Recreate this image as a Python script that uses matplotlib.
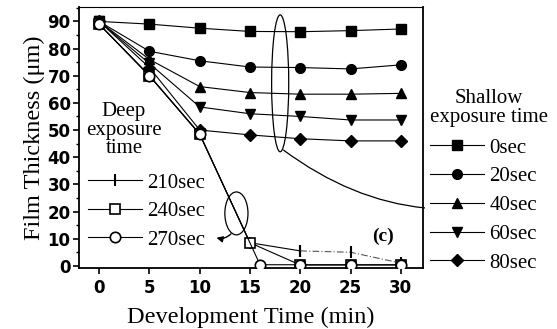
import matplotlib
matplotlib.use("Agg")
import matplotlib.pyplot as plt
from matplotlib.patches import Ellipse, PathPatch
from matplotlib.path import Path
from matplotlib.ticker import MultipleLocator

# ---- data ----
t_shallow = [0, 5, 10, 15, 20, 25, 30]
shallow_labels = ["0sec", "20sec", "40sec", "60sec", "80sec"]
s0 = [90, 89, 87.5, 86.3, 86.2, 86.6, 87.2]
s20 = [90, 79, 75.5, 73.2, 73.0, 72.5, 74.0]
s40 = [90, 76, 66, 63.8, 63.2, 63.2, 63.5]
s60 = [90, 74.5, 58.5, 56.0, 55.0, 53.7, 53.7]
s80 = [90, 73, 50, 48.2, 46.8, 46.0, 46.0]
shallow_series = [s0, s20, s40, s60, s80]
shallow_markers = ["s", "o", "^", "v", "D"]

deep_labels = ["210sec", "240sec", "270sec"]
t210 = [0, 5, 10, 15, 20, 25, 30]
d210 = [89, 70, 48.5, 8.5, 5.5, 5.0, 1.0]
t240 = [0, 5, 10, 15, 20, 25, 30]
d240 = [89, 70, 48.5, 8.5, 0.3, 0.3, 0.3]
t270 = [0, 5, 10, 16, 20, 25, 30]
d270 = [89, 70, 48.5, 0.4, 0.4, 0.4, 0.4]

xticks = [0, 5, 10, 15, 20, 25, 30]
yticks = [0, 10, 20, 30, 40, 50, 60, 70, 80, 90]

SERIF = "Liberation Serif"
W, H = 557, 329

fig = plt.figure(figsize=(5.57, 3.29), dpi=100)
ax = fig.add_axes([79 / W, 1 - 268 / H, (423 - 79) / W, (268 - 7) / H])
ax.set_xlim(-2, 32.2)
ax.set_ylim(-0.8, 95.3)

shallow_handles = []
for ys, mk, lab in zip(shallow_series, shallow_markers, shallow_labels):
    ms = 6 if mk == "D" else 7
    h, = ax.plot(t_shallow, ys, color="black", lw=0.8, marker=mk, ms=ms,
                 mfc="black", mec="black", label=lab, zorder=3)
    shallow_handles.append(h)

# 210 sec: solid up to 20 min, then dash-dot
h210, = ax.plot(t210[:5], d210[:5], color="black", lw=0.8, marker="|", ms=9,
                mew=1.5, label=deep_labels[0], zorder=2)
ax.plot(t210[4:], d210[4:], color="#555555", lw=0.8, ls=(0, (6, 2, 1, 2)),
        marker="|", ms=9, mew=1.5, mec="black", zorder=2)
h240, = ax.plot(t240, d240, color="black", lw=0.8, marker="s", ms=7,
                mfc="white", mec="black", mew=1.2, label=deep_labels[1], zorder=4)
h270, = ax.plot(t270, d270, color="black", lw=0.8, marker="o", ms=7.5,
                mfc="white", mec="black", mew=1.2, label=deep_labels[2], zorder=5)

# annotations: ellipses and connectors
ax.add_patch(Ellipse((18.0, 67.2), 1.7, 50.4, fill=False, ec="black", lw=0.9, zorder=6))
curve = Path([(18.3, 42.7), (25.1, 24.0), (32.4, 21.3)],
             [Path.MOVETO, Path.CURVE3, Path.CURVE3])
ax.add_patch(PathPatch(curve, fill=False, ec="black", lw=0.9, clip_on=False, zorder=6))
ax.add_patch(Ellipse((13.65, 19.3), 2.3, 15.8, fill=False, ec="black", lw=0.9, zorder=6))
ax.annotate("", xy=(11.4, 10.6), xytext=(13.3, 12.5),
            arrowprops=dict(arrowstyle="-|>", color="black", lw=1.0,
                            mutation_scale=9,
                            connectionstyle="arc3,rad=-0.35"))
ax.text(28.2, 10.7, "(c)", family=SERIF, fontsize=14, fontweight="bold",
        ha="center", va="center")

# axes styling
for sp in ax.spines.values():
    sp.set_linewidth(1.3)
ax.spines["top"].set_linewidth(0.8)
ax.set_xticks(xticks)
ax.set_yticks(yticks)
ax.yaxis.set_minor_locator(MultipleLocator(5))
ax.tick_params(axis="both", which="major", direction="out", length=4, width=1.2,
               labelsize=12, pad=2)
ax.tick_params(axis="x", which="major", pad=4)
ax.tick_params(axis="y", which="minor", direction="out", length=2.5, width=1)
for lab in ax.get_xticklabels() + ax.get_yticklabels():
    lab.set_family("DejaVu Sans")
    lab.set_fontweight("bold")

ax.set_xlabel("Development Time (min)", family=SERIF, fontsize=17.5, labelpad=7)
ax.set_ylabel("Film Thickness (\u03bcm)", family=SERIF, fontsize=17.5, labelpad=2)

# legends
LFS = 15
fig.text(124 / W, 1 - 130 / H, "Deep\nexposure\ntime", family=SERIF, fontsize=LFS,
         ha="center", va="center", multialignment="center", linespacing=0.95)
leg1 = fig.legend(handles=[h210, h240, h270], loc="upper left",
                  bbox_to_anchor=(88 / W, 1 - 173 / H), frameon=False,
                  handlelength=2.6, handletextpad=0.25,
                  labelspacing=0.43, borderaxespad=0.0, borderpad=0.0,
                  prop={"family": SERIF, "size": LFS})

fig.text(489 / W, 1 - 108 / H, "Shallow\nexposure time", family=SERIF, fontsize=LFS,
         ha="center", va="center", multialignment="center", linespacing=0.95)
leg2 = fig.legend(handles=shallow_handles, loc="upper left",
                  bbox_to_anchor=(430 / W, 1 - 138 / H), frameon=False,
                  handlelength=2.6, handletextpad=0.25,
                  labelspacing=0.44, borderaxespad=0.0, borderpad=0.0,
                  prop={"family": SERIF, "size": LFS})

fig.savefig("out.png", dpi=100)
